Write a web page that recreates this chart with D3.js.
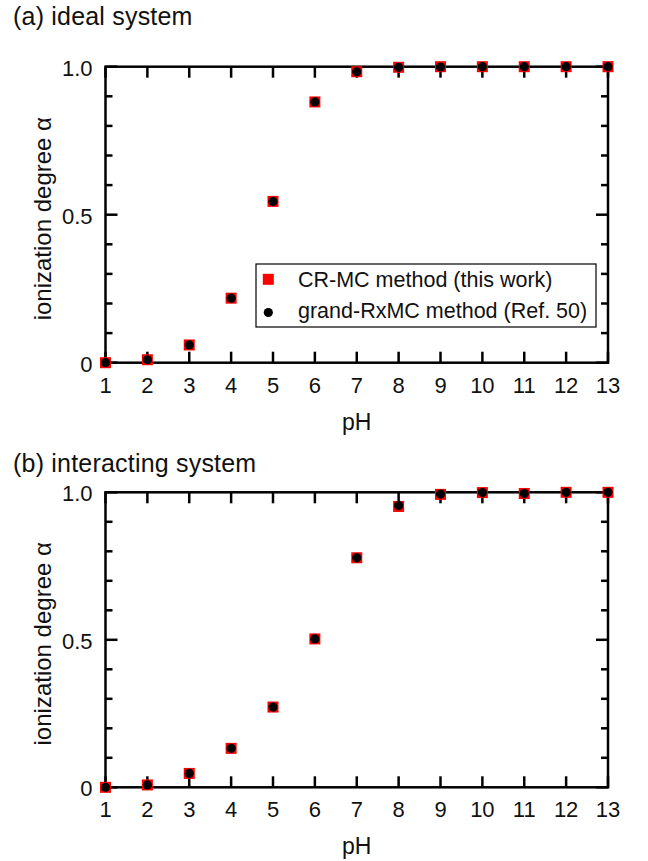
<!DOCTYPE html>
<html>
<head>
<meta charset="utf-8">
<script src="https://cdn.jsdelivr.net/npm/d3@7"></script>
<style>
  body { margin: 0; background: #fff; }
  svg text { font-family: "Liberation Sans", Arial, sans-serif; fill: #111; }
</style>
</head>
<body>
<div id="chart"></div>
<script>
// pH values shared by both panels
const pH = [1, 2, 3, 4, 5, 6, 7, 8, 9, 10, 11, 12, 13];

// (a) ideal system
const idealCRMC  = [0.0, 0.01, 0.06, 0.218, 0.545, 0.881, 0.983, 0.998, 1.0, 1.0, 1.0, 1.0, 1.0];
const idealRxMC  = [0.0, 0.01, 0.06, 0.218, 0.545, 0.881, 0.983, 0.998, 0.999, 1.0, 1.0, 1.0, 1.0];

// (b) interacting system
const interCRMC  = [0.0, 0.008, 0.047, 0.132, 0.272, 0.503, 0.778, 0.952, 0.993, 0.999, 0.996, 1.0, 1.0];
const interRxMC  = [0.0, 0.008, 0.047, 0.132, 0.272, 0.503, 0.778, 0.955, 0.994, 0.999, 0.996, 1.0, 1.0];

const yMajorTicks = [0, 0.5, 1.0];
const yTickLabels = ["0", "0.5", "1.0"];
const legendLabels = ["CR-MC method (this work)", "grand-RxMC method (Ref. 50)"];

const width = 648, height = 861;
const svg = d3.select("#chart").append("svg")
  .attr("width", width)
  .attr("height", height);

const left = 105.5, right = 608;
const x = d3.scaleLinear().domain([1, 13]).range([left, right]);

function drawPanel(cfg) {
  const y = d3.scaleLinear().domain([0, 1]).range([cfg.bottom, cfg.top]);
  const g = svg.append("g");

  // title
  g.append("text")
    .attr("x", 13)
    .attr("y", cfg.titleY)
    .style("font-size", "25px")
    .style("letter-spacing", "0.2px")
    .text(cfg.title);

  // inward ticks: x on top and bottom
  const tickStyle = sel => sel.attr("stroke", "#000").attr("stroke-width", 2.5);
  g.selectAll(".xtb").data(pH).enter().append("line")
    .attr("x1", d => x(d)).attr("x2", d => x(d))
    .attr("y1", cfg.bottom).attr("y2", cfg.bottom - 11)
    .call(tickStyle);
  g.selectAll(".xtt").data(pH).enter().append("line")
    .attr("x1", d => x(d)).attr("x2", d => x(d))
    .attr("y1", cfg.top).attr("y2", cfg.top + 11)
    .call(tickStyle);

  // y ticks, minor every 0.1, major at 0 / 0.5 / 1
  const yTicks = d3.range(0, 11).map(i => i / 10);
  const tlen = d => (yMajorTicks.some(m => Math.abs(m - d) < 1e-9) ? 12 : 7);
  g.selectAll(".ytl").data(yTicks).enter().append("line")
    .attr("x1", left).attr("x2", d => left + tlen(d))
    .attr("y1", d => y(d)).attr("y2", d => y(d))
    .call(tickStyle);
  g.selectAll(".ytr").data(yTicks).enter().append("line")
    .attr("x1", right).attr("x2", d => right - tlen(d))
    .attr("y1", d => y(d)).attr("y2", d => y(d))
    .call(tickStyle);

  // frame
  g.append("rect")
    .attr("x", left).attr("y", cfg.top)
    .attr("width", right - left).attr("height", cfg.bottom - cfg.top)
    .attr("fill", "none").attr("stroke", "#000").attr("stroke-width", 2.5);

  // x tick labels
  g.selectAll(".xl").data(pH).enter().append("text")
    .attr("x", d => x(d))
    .attr("y", cfg.bottom + 30)
    .attr("text-anchor", "middle")
    .style("font-size", "22px")
    .text(d => d);

  // y tick labels
  g.selectAll(".yl").data(yMajorTicks).enter().append("text")
    .attr("x", left - 13)
    .attr("y", d => y(d) + 9)
    .attr("text-anchor", "end")
    .style("font-size", "22px")
    .text((d, i) => yTickLabels[i]);

  // axis titles
  g.append("text")
    .attr("x", (left + right) / 2)
    .attr("y", cfg.bottom + 67)
    .attr("text-anchor", "middle")
    .style("font-size", "23px")
    .text("pH");

  g.append("text")
    .attr("transform", `translate(51,${(cfg.top + cfg.bottom) / 2 + 4}) rotate(-90)`)
    .attr("text-anchor", "middle")
    .style("font-size", "24px")
    .text("ionization degree α");

  // data: red squares then black dots
  const sq = 11;
  g.selectAll(".sq").data(pH).enter().append("rect")
    .attr("x", (d, i) => x(d) - sq / 2)
    .attr("y", (d, i) => y(cfg.crmc[i]) - sq / 2)
    .attr("width", sq).attr("height", sq)
    .attr("fill", "#ff0000");
  g.selectAll(".dot").data(pH).enter().append("circle")
    .attr("cx", d => x(d))
    .attr("cy", (d, i) => y(cfg.rxmc[i]))
    .attr("r", 4.6)
    .attr("fill", "#000");

  if (cfg.legend) {
    const lg = g.append("g");
    lg.append("rect")
      .attr("x", 256).attr("y", 264)
      .attr("width", 340).attr("height", 63)
      .attr("fill", "#fff").attr("stroke", "#000").attr("stroke-width", 1.2);
    lg.append("rect")
      .attr("x", 268.3 - sq / 2).attr("y", 279.3 - sq / 2)
      .attr("width", sq).attr("height", sq)
      .attr("fill", "#ff0000");
    lg.append("circle")
      .attr("cx", 268.3).attr("cy", 312.5).attr("r", 4.6)
      .attr("fill", "#000");
    lg.selectAll(".lt").data(legendLabels).enter().append("text")
      .attr("x", 298)
      .attr("y", (d, i) => 287 + i * 31)
      .style("font-size", "21.5px")
      .text(d => d);
  }
}

drawPanel({
  title: "(a) ideal system", titleY: 25,
  top: 66.7, bottom: 362.7,
  crmc: idealCRMC, rxmc: idealRxMC, legend: true
});

drawPanel({
  title: "(b) interacting system", titleY: 472,
  top: 492.3, bottom: 787.3,
  crmc: interCRMC, rxmc: interRxMC, legend: false
});
</script>
</body>
</html>
